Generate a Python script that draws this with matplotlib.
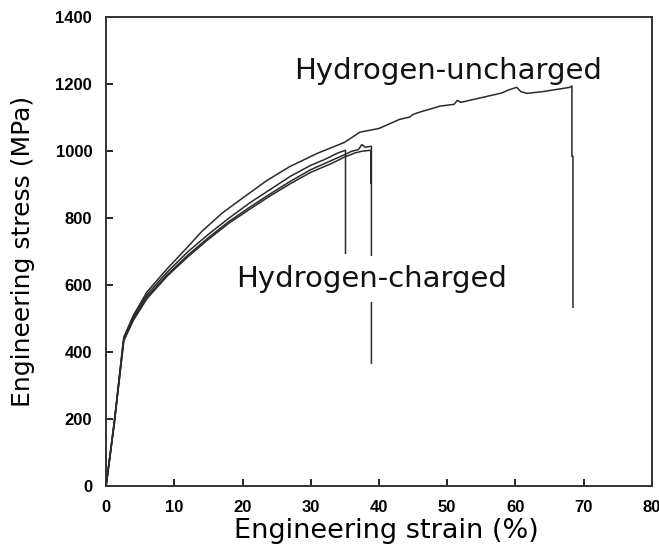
import matplotlib
matplotlib.use('Agg')
import matplotlib.pyplot as plt

# tensile curves (strain %, stress MPa)
uncharged_strain = [0, 1.2, 2.3, 2.6, 4, 6, 9, 12, 14, 17, 20, 23.6, 27, 31, 35, 37.2, 40, 43,
                    44.5, 45, 46, 49, 51, 51.5, 52, 55, 58, 59, 60.2, 60.8, 61.7, 64, 68.0,
                    68.3, 68.3, 68.45, 68.45]
uncharged_stress = [0, 195, 390, 445, 510, 580, 650, 715, 760, 815, 860, 913, 955, 994, 1027, 1057,
                    1068, 1095, 1102, 1110, 1117, 1135, 1140, 1152, 1146, 1160, 1174, 1183, 1191,
                    1178, 1173, 1178, 1191, 1195, 985, 985, 534]

charged1_strain = [0, 1.2, 2.3, 2.6, 4, 6, 9, 12, 15, 18, 21, 24, 27, 30, 32, 34, 35.1, 35.1]
charged1_stress = [0, 190, 385, 440, 505, 572, 640, 700, 752, 800, 845, 885, 925, 958, 975, 995,
                   1003, 695]

charged2_strain = [0, 1.2, 2.3, 2.6, 4, 6, 9, 12, 15, 18, 21, 24, 27, 30, 33, 35, 36, 37, 37.5,
                   38, 38.9, 38.9]
charged2_stress = [0, 188, 380, 435, 500, 565, 632, 690, 742, 790, 832, 872, 910, 945, 972, 990,
                   1000, 1005, 1020, 1012, 1015, 367]

charged3_strain = [0, 1.2, 2.2, 2.5, 4, 6, 9, 12, 15, 18, 21, 24, 27, 30, 33, 35, 36.5, 37.5,
                   38.8, 38.8]
charged3_stress = [0, 185, 375, 430, 495, 560, 628, 685, 737, 785, 826, 866, 903, 937, 963, 983,
                   995, 1000, 1003, 905]

x_ticks = [0, 10, 20, 30, 40, 50, 60, 70, 80]
y_ticks = [0, 200, 400, 600, 800, 1000, 1200, 1400]

fig = plt.figure(figsize=(6.59, 5.54), dpi=100)
ax = fig.add_axes([0.161, 0.1227, 0.828, 0.846])

line_color = '#2a2a2a'
ax.plot(uncharged_strain, uncharged_stress, color=line_color, lw=1.1)
ax.plot(charged1_strain, charged1_stress, color=line_color, lw=1.1)
ax.plot(charged2_strain, charged2_stress, color=line_color, lw=1.1)
ax.plot(charged3_strain, charged3_stress, color=line_color, lw=1.1)

ax.text(27.6, 1215, 'Hydrogen-uncharged', fontsize=21, family='DejaVu Sans',
        va='baseline', ha='left', color='#111111')
ax.text(19.1, 594, 'Hydrogen-charged', fontsize=21, family='DejaVu Sans',
        va='baseline', ha='left', color='#111111', zorder=5,
        bbox=dict(boxstyle='square,pad=0.3', facecolor='white', edgecolor='none'))

ax.set_xlim(0, 80)
ax.set_ylim(0, 1400)
ax.set_xticks(x_ticks)
ax.set_yticks(y_ticks)
ax.tick_params(direction='in', length=5, width=1.2, labelsize=12, pad=10)
for lab in ax.get_xticklabels() + ax.get_yticklabels():
    lab.set_fontweight('bold')
    lab.set_family('Liberation Sans')

for sp in ax.spines.values():
    sp.set_linewidth(1.4)
    sp.set_color('#333333')

ax.set_xlabel('Engineering strain (%)', fontsize=19.5, family='DejaVu Sans')
ax.xaxis.set_label_coords(0.513, -0.068)
ax.set_ylabel('Engineering stress (MPa)', fontsize=18, family='DejaVu Sans')
ax.yaxis.set_label_coords(-0.13, 0.5)

fig.savefig('out.png', dpi=100)
